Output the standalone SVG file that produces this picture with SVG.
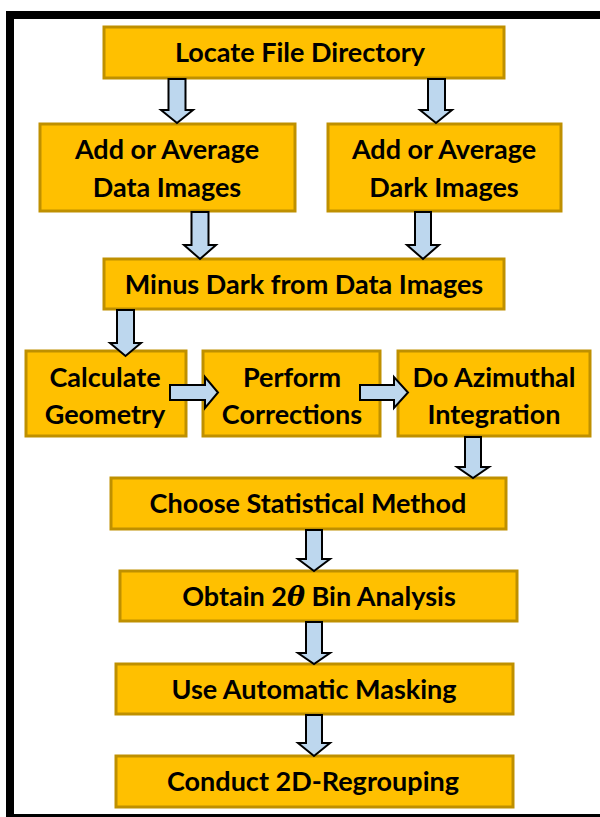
<svg xmlns="http://www.w3.org/2000/svg" width="600" height="817" viewBox="0 0 600 817">
<style>
.box{fill:#FFC000;stroke:#BF9000;stroke-width:3}
.t{font-family:Lato,"Open Sans","Liberation Sans",sans-serif;font-weight:bold;font-size:27px;fill:#000;text-anchor:middle}
.ar{fill:#BDD7EE;stroke:#000;stroke-width:2;stroke-linejoin:miter}
.th{font-family:"DejaVu Serif","Liberation Serif",serif;font-style:italic;font-weight:bold}
</style>
<rect x="0" y="0" width="600" height="817" fill="#fff"/>
<rect x="10" y="15" width="620" height="803" fill="none" stroke="#000" stroke-width="8"/>

<g id="n1"><rect class="box" x="104" y="27" width="400" height="51"/><text class="t" x="300" y="61.5">Locate File Directory</text></g>
<g id="n2"><rect class="box" x="40" y="124" width="255" height="87"/><text class="t" x="167" y="159">Add or Average</text><text class="t" x="167" y="196.5">Data Images</text></g>
<g id="n3"><rect class="box" x="328" y="124" width="233" height="87"/><text class="t" x="444" y="159">Add or Average</text><text class="t" x="444" y="196.5">Dark Images</text></g>
<g id="n4"><rect class="box" x="104" y="259" width="400" height="50"/><text class="t" x="304" y="293.5">Minus Dark from Data Images</text></g>
<g id="n5"><rect class="box" x="26" y="351" width="160" height="85"/><text class="t" x="105" y="386.5">Calculate</text><text class="t" x="105" y="423.5">Geometry</text></g>
<g id="n6"><rect class="box" x="203" y="351" width="177" height="85"/><text class="t" x="292" y="386.5">Perform</text><text class="t" x="292" y="423.5">Corrections</text></g>
<g id="n7"><rect class="box" x="398" y="351" width="192" height="85"/><text class="t" x="494" y="386.5">Do Azimuthal</text><text class="t" x="494" y="423.5">Integration</text></g>
<g id="n8"><rect class="box" x="111" y="478" width="395" height="51"/><text class="t" x="308" y="512.5">Choose Statistical Method</text></g>
<g id="n9"><rect class="box" x="120" y="571" width="397" height="50"/><text class="t" x="319" y="605.5">Obtain 2<tspan class="th">θ</tspan> Bin Analysis</text></g>
<g id="n10"><rect class="box" x="116" y="664" width="397" height="50"/><text class="t" x="314" y="698.5">Use Automatic Masking</text></g>
<g id="n11"><rect class="box" x="116" y="756" width="397" height="51"/><text class="t" x="313" y="790.5">Conduct 2D-Regrouping</text></g>

<g id="connectors">
<polygon class="ar" points="168.5,79 185.5,79 185.5,110 193,110 177,123 161,110 168.5,110"/>
<polygon class="ar" points="428,79 445,79 445,110 452,110 436,123 420,110 428,110"/>
<polygon class="ar" points="191.5,212 208.5,212 208.5,245 216,245 200,259 184,245 191.5,245"/>
<polygon class="ar" points="415,212 431,212 431,245 439,245 423,259 407,245 415,245"/>
<polygon class="ar" points="117,310 134,310 134,343 141,343 125.5,356 110,343 117,343"/>
<polygon class="ar" points="170,385 205,385 205,377 218,392.5 205,408 205,400 170,400"/>
<polygon class="ar" points="360,385 394,385 394,377 408,392.5 394,408 394,400 360,400"/>
<polygon class="ar" points="465,437 481,437 481,467 489,467 473,478 457,467 465,467"/>
<polygon class="ar" points="306,530 322,530 322,559 330,559 314,571 298,559 306,559"/>
<polygon class="ar" points="306,622 322,622 322,653 330,653 314,664 298,653 306,653"/>
<polygon class="ar" points="306,715 322,715 322,743 330,743 314,756 298,743 306,743"/>
</g>
</svg>
